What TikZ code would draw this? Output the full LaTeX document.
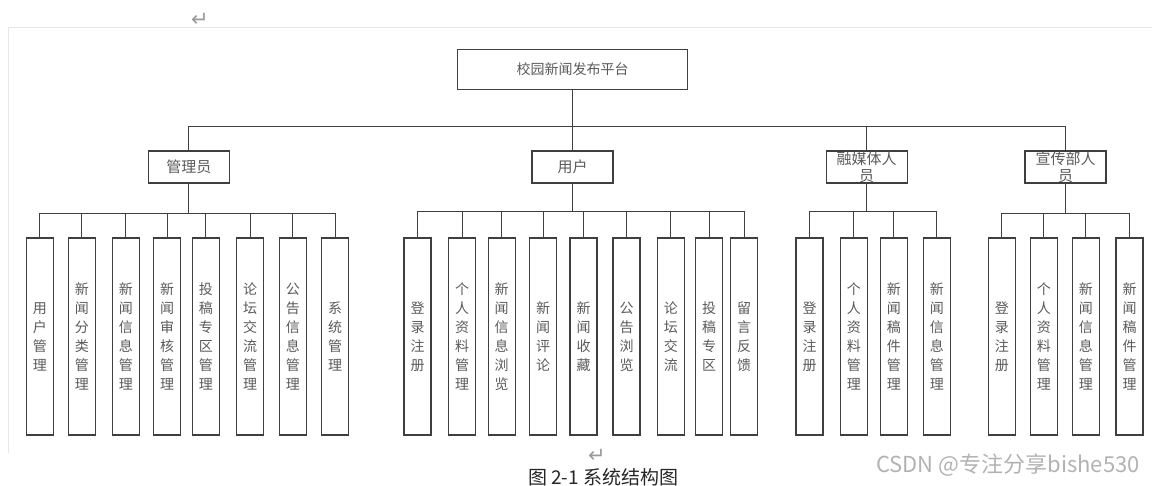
\documentclass[tikz,border=0pt]{standalone}
\usepackage{fontspec}
\setmainfont{Noto Sans CJK SC}
\newfontfamily\symfont{DejaVu Sans}
\definecolor{boxline}{HTML}{3F3F3F}
\definecolor{boxtext}{HTML}{5A5A5A}
\definecolor{framegray}{HTML}{E6E6E6}
\definecolor{markgray}{HTML}{9A9A9A}

\begin{document}
\begin{tikzpicture}[
    x=1pt, y=-1pt,
    rootbox/.style={rectangle, draw=boxline, line width=1.1pt, text=boxtext, minimum width=230pt, minimum height=40pt, inner sep=0pt, font=\fontsize{14}{16}\selectfont},
    rolebox/.style={rectangle, draw=boxline, line width=1.1pt, text=boxtext, minimum width=81pt, minimum height=32pt, inner sep=0pt, align=center, font=\fontsize{15}{17}\selectfont},
    leafbox/.style={rectangle, draw=boxline, line width=1.1pt, text=boxtext, minimum width=27pt, minimum height=197pt, inner sep=0pt, align=center, font=\fontsize{14}{19}\selectfont},
    link/.style={draw=boxline, line width=1.1pt},
    retmark/.style={text=markgray, inner sep=0pt, font=\symfont\fontsize{21}{21}\selectfont}
]
\useasboundingbox (0,0) rectangle (1152,485);

% Page frame
\draw[framegray, line width=1pt] (1152,27) -- (8,27) -- (8,453);
\node[retmark] (retTop) at (200,20) {↵};

% Nodes
\node[rootbox] (root) at (572.5,69.3) {校园新闻发布平台};

\node[rolebox] (adm) at (188.8,167) {管理员};
\node[rolebox] (usr) at (572.5,167) {用户};
\node[rolebox] (med) at (866.7,167) {融媒体人\\员};
\node[rolebox] (pub) at (1065.5,167) {宣传部人\\员};

% Admin modules
\node[leafbox] (a1) at (39.8,336.5) {用\\户\\管\\理};
\node[leafbox] (a2) at (81.8,336.5) {新\\闻\\分\\类\\管\\理};
\node[leafbox] (a3) at (125.8,336.5) {新\\闻\\信\\息\\管\\理};
\node[leafbox] (a4) at (167.2,336.5) {新\\闻\\审\\核\\管\\理};
\node[leafbox] (a5) at (205.8,336.5) {投\\稿\\专\\区\\管\\理};
\node[leafbox] (a6) at (250.2,336.5) {论\\坛\\交\\流\\管\\理};
\node[leafbox] (a7) at (292.8,336.5) {公\\告\\信\\息\\管\\理};
\node[leafbox] (a8) at (335.2,336.5) {系\\统\\管\\理};

% User modules
\node[leafbox] (u1) at (417.5,336.5) {登\\录\\注\\册};
\node[leafbox] (u2) at (462.2,336.5) {个\\人\\资\\料\\管\\理};
\node[leafbox] (u3) at (501.7,336.5) {新\\闻\\信\\息\\浏\\览};
\node[leafbox] (u4) at (543.2,336.5) {新\\闻\\评\\论};
\node[leafbox] (u5) at (583.5,336.5) {新\\闻\\收\\藏};
\node[leafbox] (u6) at (626.5,336.5) {公\\告\\浏\\览};
\node[leafbox] (u7) at (670.8,336.5) {论\\坛\\交\\流};
\node[leafbox] (u8) at (709.2,336.5) {投\\稿\\专\\区};
\node[leafbox] (u9) at (744.2,336.5) {留\\言\\反\\馈};

% Media staff modules
\node[leafbox] (m1) at (809.5,336.5) {登\\录\\注\\册};
\node[leafbox] (m2) at (853.8,336.5) {个\\人\\资\\料\\管\\理};
\node[leafbox] (m3) at (893.8,336.5) {新\\闻\\稿\\件\\管\\理};
\node[leafbox] (m4) at (936.8,336.5) {新\\闻\\信\\息\\管\\理};

% Publicity staff modules
\node[leafbox] (p1) at (1001.8,336.5) {登\\录\\注\\册};
\node[leafbox] (p2) at (1043.8,336.5) {个\\人\\资\\料\\管\\理};
\node[leafbox] (p3) at (1085.8,336.5) {新\\闻\\信\\息\\管\\理};
\node[leafbox] (p4) at (1129.5,336.5) {新\\闻\\稿\\件\\管\\理};

% Lines
\draw[link] (root.south) -- ++(0,36.7) -| (adm.north);
\draw[link] (root.south) -- ++(0,36.7) -| (usr.north);
\draw[link] (root.south) -- ++(0,36.7) -| (med.north);
\draw[link] (root.south) -- ++(0,36.7) -| (pub.north);

\draw[link] (adm.south) -- ++(0,29.5) -| (a1.north);
\draw[link] (adm.south) -- ++(0,29.5) -| (a2.north);
\draw[link] (adm.south) -- ++(0,29.5) -| (a3.north);
\draw[link] (adm.south) -- ++(0,29.5) -| (a4.north);
\draw[link] (adm.south) -- ++(0,29.5) -| (a5.north);
\draw[link] (adm.south) -- ++(0,29.5) -| (a6.north);
\draw[link] (adm.south) -- ++(0,29.5) -| (a7.north);
\draw[link] (adm.south) -- ++(0,29.5) -| (a8.north);

\draw[link] (usr.south) -- ++(0,28) -| (u1.north);
\draw[link] (usr.south) -- ++(0,28) -| (u2.north);
\draw[link] (usr.south) -- ++(0,28) -| (u3.north);
\draw[link] (usr.south) -- ++(0,28) -| (u4.north);
\draw[link] (usr.south) -- ++(0,28) -| (u5.north);
\draw[link] (usr.south) -- ++(0,28) -| (u6.north);
\draw[link] (usr.south) -- ++(0,28) -| (u7.north);
\draw[link] (usr.south) -- ++(0,28) -| (u8.north);
\draw[link] (usr.south) -- ++(0,28) -| (u9.north);

\draw[link] (med.south) -- ++(0,28) -| (m1.north);
\draw[link] (med.south) -- ++(0,28) -| (m2.north);
\draw[link] (med.south) -- ++(0,28) -| (m3.north);
\draw[link] (med.south) -- ++(0,28) -| (m4.north);

\draw[link] (pub.south) -- ++(0,29.5) -| (p1.north);
\draw[link] (pub.south) -- ++(0,29.5) -| (p2.north);
\draw[link] (pub.south) -- ++(0,29.5) -| (p3.north);
\draw[link] (pub.south) -- ++(0,29.5) -| (p4.north);

% Caption and watermark
\node[retmark] (retBot) at (597,456) {↵};
\node[inner sep=0pt, anchor=north west, text=black!85, font=\fontsize{19}{19}\selectfont] (caption) at (528,468) {图 2-1 系统结构图};
\node[inner sep=0pt, anchor=west, text=black!30, font=\fontsize{22}{22}\selectfont] (water) at (876,465) {CSDN @专注分享bishe530};
\end{tikzpicture}
\end{document}
